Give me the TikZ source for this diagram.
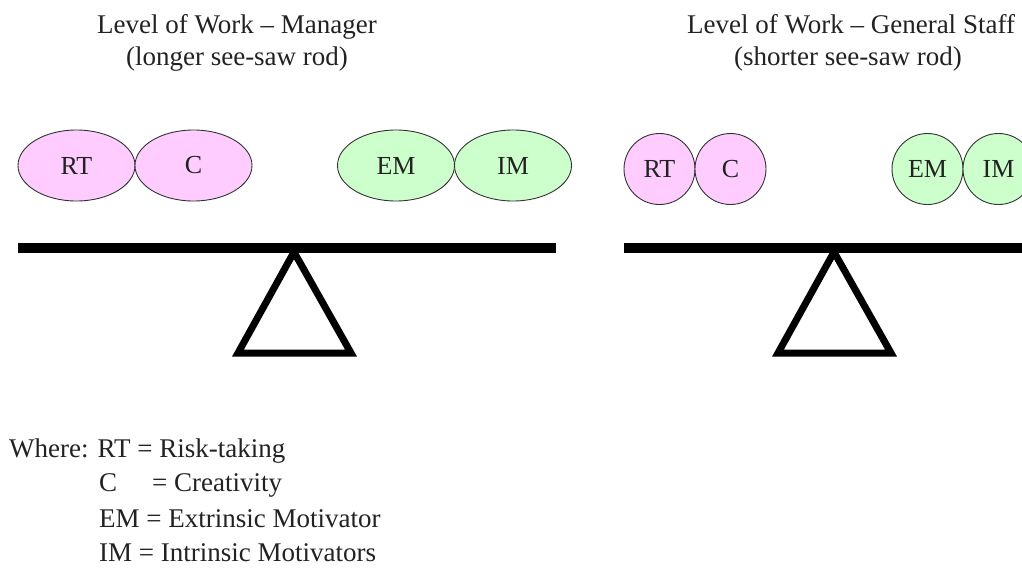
\documentclass[tikz,border=0pt]{standalone}
\usepackage{fontspec}
\setmainfont{Liberation Serif}
\usetikzlibrary{shapes.geometric}
\definecolor{pinkfill}{HTML}{FFCCFF}
\definecolor{greenfill}{HTML}{CCFFCC}
\definecolor{txt}{HTML}{222222}
\tikzset{
  lbl/.style={font=\fontsize{27}{32}\selectfont, text=txt, inner sep=0pt},
  oval/.style={ellipse, draw=black!80, line width=0.9pt, inner sep=0pt,
     minimum width=117, minimum height=71, font=\fontsize{26}{30}\selectfont, text=txt},
  rnd/.style={circle, draw=black!80, line width=0.9pt, inner sep=0pt,
     minimum size=71, font=\fontsize{26}{30}\selectfont, text=txt},
  pinkn/.style={fill=pinkfill},
  greenn/.style={fill=greenfill},
  rod/.style={line width=10pt},
  fulcrum/.style={line width=7pt, line join=miter},
}
\begin{document}
\begin{tikzpicture}[x=1pt,y=-1pt]
\useasboundingbox (0,0) rectangle (1022,568);
% titles
\node[lbl, anchor=base] (t1a) at (237,33) {Level of Work -- Manager};
\node[lbl, anchor=base] (t1b) at (237,65) {(longer see-saw rod)};
\node[lbl, anchor=base] (t2a) at (851,33) {Level of Work -- General Staff};
\node[lbl, anchor=base] (t2b) at (848,65) {(shorter see-saw rod)};
% manager see-saw
\node[oval, pinkn] (rt1) at (76.5,165.5) {RT};
\node[oval, pinkn] (c1) at (193.5,165.5) {C};
\node[oval, greenn] (em1) at (396,165.5) {EM};
\node[oval, greenn] (im1) at (513,165.5) {IM};
\draw[rod] (18,248) -- (556,248);
\draw[fulcrum] (294,252) -- (238,353) -- (351,353) -- cycle;
% staff see-saw
\node[rnd, pinkn] (rt2) at (659.5,169) {RT};
\node[rnd, pinkn] (c2) at (730.5,169) {C};
\node[rnd, greenn] (em2) at (927.5,169) {EM};
\node[rnd, greenn] (im2) at (998.5,169) {IM};
\draw[rod] (624,248) -- (1022,248);
\draw[fulcrum] (834,252) -- (778,353) -- (891,353) -- cycle;
% legend
\node[lbl, anchor=base west] (l1) at (9,457) {Where: RT = Risk-taking};
\node[lbl, anchor=base west] (l2a) at (99,491) {C};
\node[lbl, anchor=base west] (l2b) at (152,491) {= Creativity};
\node[lbl, anchor=base west] (l3) at (99,527) {EM = Extrinsic Motivator};
\node[lbl, anchor=base west] (l4) at (99,561) {IM = Intrinsic Motivators};
\end{tikzpicture}
\end{document}
